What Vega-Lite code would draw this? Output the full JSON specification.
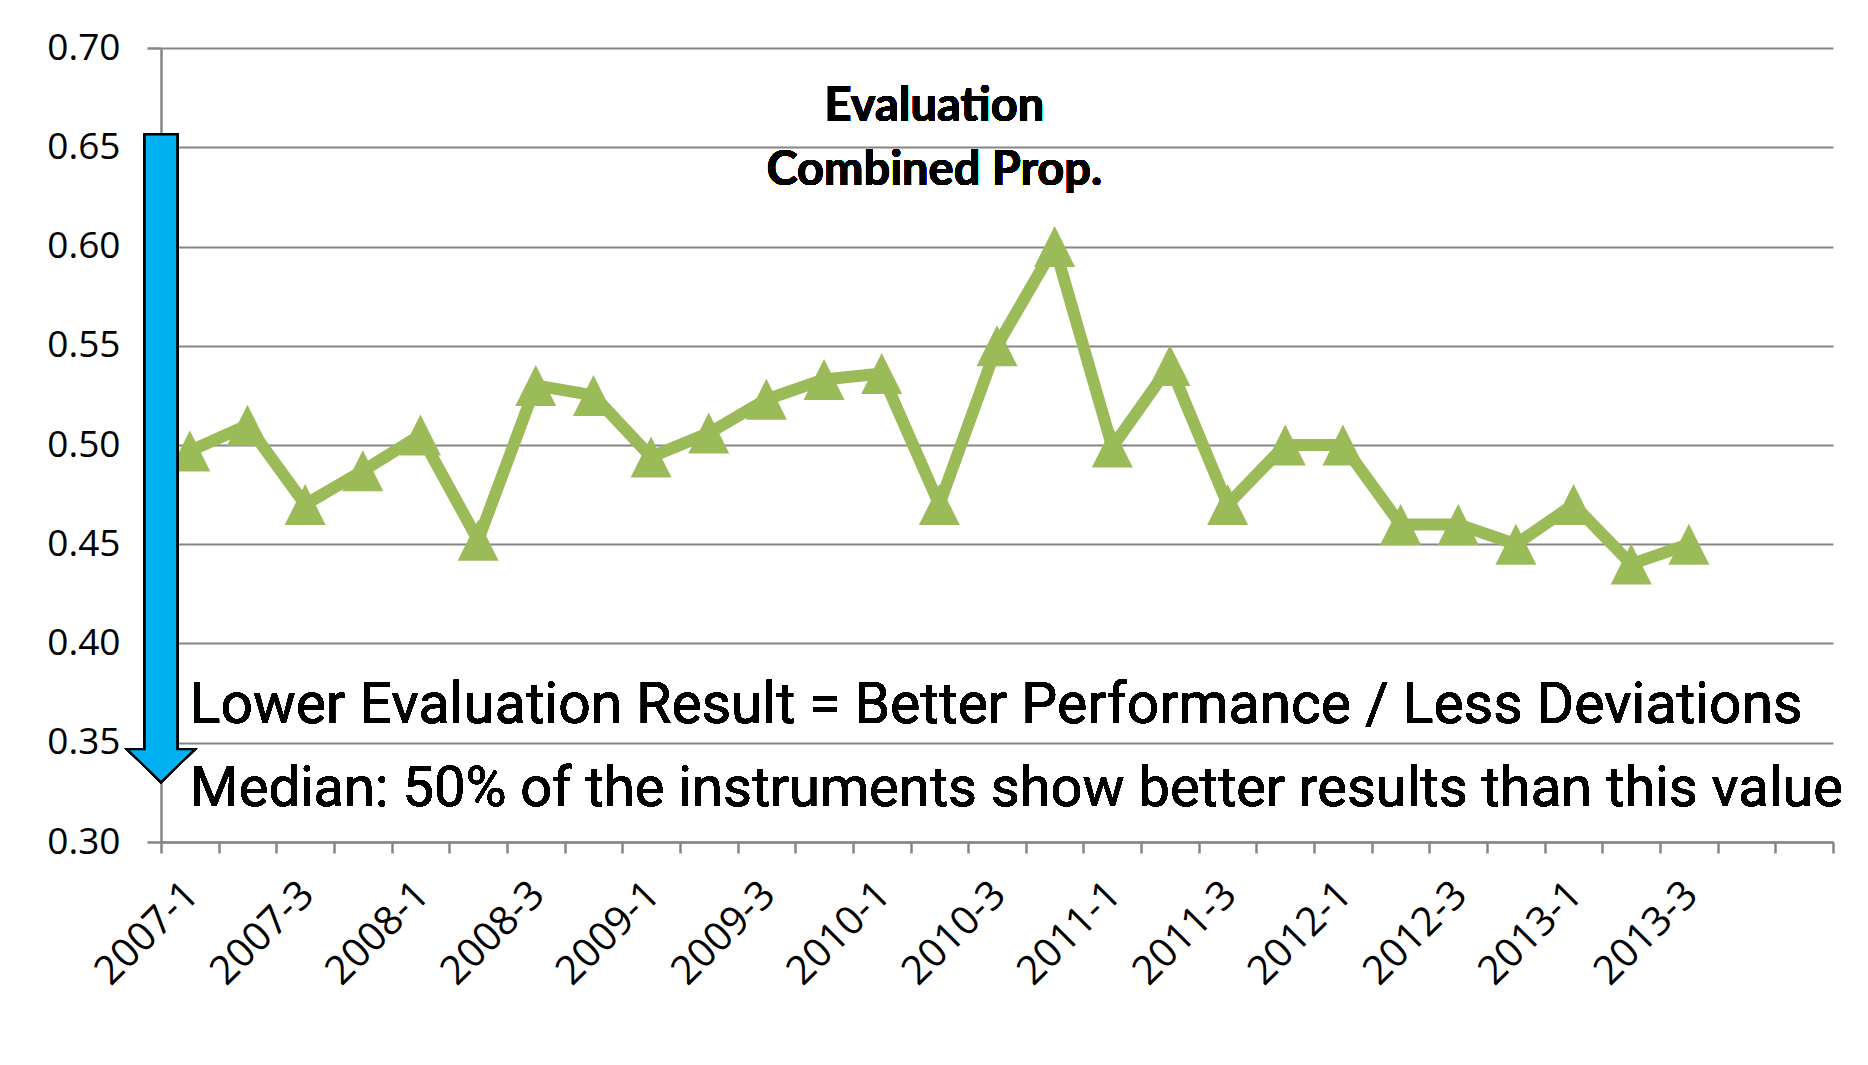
{
  "$schema": "https://vega.github.io/schema/vega-lite/v6.json",
  "width": 1672,
  "height": 794,
  "autosize": {"type": "none"},
  "padding": {"left": 161, "top": 48, "right": 35, "bottom": 223},
  "background": "white",
  "config": {"view": {"stroke": null}, "font": "Open Sans"},
  "data": {
    "values": [
      {"period": "2007-1", "value": 0.497},
      {"period": "2007-2", "value": 0.51},
      {"period": "2007-3", "value": 0.47},
      {"period": "2007-4", "value": 0.487},
      {"period": "2008-1", "value": 0.505},
      {"period": "2008-2", "value": 0.452},
      {"period": "2008-3", "value": 0.53},
      {"period": "2008-4", "value": 0.525},
      {"period": "2009-1", "value": 0.494},
      {"period": "2009-2", "value": 0.506},
      {"period": "2009-3", "value": 0.523},
      {"period": "2009-4", "value": 0.533},
      {"period": "2010-1", "value": 0.536},
      {"period": "2010-2", "value": 0.47},
      {"period": "2010-3", "value": 0.55},
      {"period": "2010-4", "value": 0.6},
      {"period": "2011-1", "value": 0.499},
      {"period": "2011-2", "value": 0.54},
      {"period": "2011-3", "value": 0.47},
      {"period": "2011-4", "value": 0.5},
      {"period": "2012-1", "value": 0.5},
      {"period": "2012-2", "value": 0.46},
      {"period": "2012-3", "value": 0.46},
      {"period": "2012-4", "value": 0.45},
      {"period": "2013-1", "value": 0.47},
      {"period": "2013-2", "value": 0.44},
      {"period": "2013-3", "value": 0.45}
    ]
  },
  "layer": [
    {
      "mark": {"type": "line", "color": "#9BBB59", "strokeWidth": 12, "strokeJoin": "round"},
      "encoding": {
        "x": {
          "field": "period",
          "type": "nominal",
          "scale": {
            "type": "band",
            "paddingInner": 0,
            "paddingOuter": 0,
            "domain": ["2007-1","2007-2","2007-3","2007-4","2008-1","2008-2","2008-3","2008-4","2009-1","2009-2","2009-3","2009-4","2010-1","2010-2","2010-3","2010-4","2011-1","2011-2","2011-3","2011-4","2012-1","2012-2","2012-3","2012-4","2013-1","2013-2","2013-3","2013-4","2014-1"]
          },
          "axis": {
            "title": null,
            "grid": false,
            "tickBand": "extent",
            "labelAngle": -45,
            "labelAlign": "right",
            "labelBaseline": "middle",
            "labelFont": "Open Sans",
            "labelFontSize": 40,
            "labelColor": "#000000",
            "labelPadding": 35,
            "labelOffset": 2,
            "labelOverlap": false,
            "labelBound": false,
            "labelExpr": "indexof(['2007-1','2007-3','2008-1','2008-3','2009-1','2009-3','2010-1','2010-3','2011-1','2011-3','2012-1','2012-3','2013-1','2013-3'], datum.value) >= 0 ? datum.label : ''",
            "tickSize": 11,
            "tickWidth": 2.5,
            "tickColor": "#868686",
            "domainColor": "#868686",
            "domainWidth": 2.5
          }
        },
        "y": {
          "field": "value",
          "type": "quantitative",
          "scale": {"domain": [0.3, 0.7], "zero": false, "nice": false},
          "axis": {
            "title": null,
            "values": [0.3, 0.35, 0.4, 0.45, 0.5, 0.55, 0.6, 0.65, 0.7],
            "format": ".2f",
            "grid": true,
            "gridColor": "#868686",
            "gridWidth": 2,
            "gridOpacity": 1,
            "labelFont": "Open Sans",
            "labelFontSize": 37,
            "labelColor": "#000000",
            "labelPadding": 27,
            "tickSize": 14,
            "tickWidth": 2.5,
            "tickColor": "#868686",
            "domainColor": "#868686",
            "domainWidth": 2.5
          }
        }
      }
    },
    {
      "mark": {"type": "point", "shape": "M0,-1L1,1L-1,1Z", "filled": true, "color": "#9BBB59", "size": 1681, "opacity": 1},
      "encoding": {
        "x": {"field": "period", "type": "nominal"},
        "y": {"field": "value", "type": "quantitative"}
      }
    },
    {
      "mark": {
        "type": "point",
        "shape": "M-0.05,-1L0.05,-1L0.05,0.899L0.1044,0.899L0,1L-0.1044,0.899L-0.05,0.899Z",
        "filled": true,
        "fill": "#00B0F0",
        "stroke": "#000000",
        "strokeWidth": 2,
        "size": 419127,
        "opacity": 1,
        "fillOpacity": 1
      },
      "encoding": {
        "x": {"datum": "2007-1", "type": "nominal", "bandPosition": 0},
        "y": {"datum": 0.4933, "type": "quantitative"}
      }
    },
    {
      "mark": {
        "type": "text",
        "text": "Lower Evaluation Result = Better Performance / Less Deviations",
        "align": "left",
        "baseline": "alphabetic",
        "font": "Roboto",
        "fontSize": 57,
        "color": "#000000"
      },
      "encoding": {
        "x": {"datum": "2007-1", "type": "nominal"},
        "y": {"datum": 0.36, "type": "quantitative"}
      }
    },
    {
      "mark": {
        "type": "text",
        "text": "Median: 50% of the instruments show better results than this value",
        "align": "left",
        "baseline": "alphabetic",
        "font": "Roboto",
        "fontSize": 56,
        "color": "#000000"
      },
      "encoding": {
        "x": {"datum": "2007-1", "type": "nominal"},
        "y": {"datum": 0.318, "type": "quantitative"}
      }
    },
    {
      "mark": {
        "type": "text",
        "text": ["Evaluation", "Combined Prop."],
        "align": "center",
        "baseline": "alphabetic",
        "lineHeight": 63.6,
        "font": "Lato",
        "fontWeight": "bold",
        "fontSize": 47,
        "dx": -5,
        "color": "#000000"
      },
      "encoding": {
        "x": {"datum": "2010-2", "type": "nominal"},
        "y": {"datum": 0.6632, "type": "quantitative"}
      }
    }
  ]
}
